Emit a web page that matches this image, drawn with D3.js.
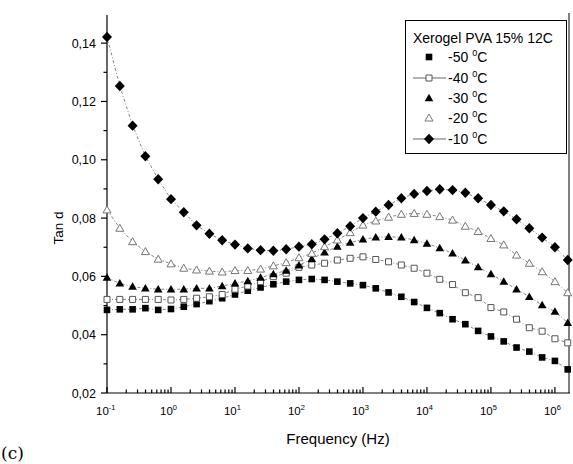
<!DOCTYPE html>
<html><head><meta charset="utf-8">
<script src="https://cdn.jsdelivr.net/npm/d3@7"></script>
<style>body{margin:0;background:#fff}svg{display:block}</style>
</head><body>
<svg id="c" width="573" height="464"></svg>
<script>
const freq = [0.1,0.1585,0.2512,0.3981,0.631, 1,1.585,2.512,3.981,6.31, 10,15.85,25.12,39.81,63.1,
  100,158.5,251.2,398.1,631, 1000,1585,2512,3981,6310, 1e4,15850,25120,39810,63100,
  1e5,158500,251200,398100,631000, 1e6,1585000];
const m50 = [0.0485,0.0487,0.0487,0.0491,0.0485,0.0488,0.0496,0.0505,0.0515,0.0525,0.0538,0.0551,0.0562,0.0573,0.0582,
  0.0588,0.0591,0.0588,0.0582,0.0576,0.0570,0.0559,0.0545,0.0530,0.0512,0.0492,
  0.0474,0.0453,0.0436,0.0413,0.0394,0.0377,0.0356,0.0342,0.0322,0.0310,0.0281];
const m40 = [0.0521,0.0521,0.0521,0.0521,0.0521,0.0519,0.0521,0.0525,0.0530,0.0538,0.0556,0.0567,0.0582,0.0599,0.0611,
  0.0631,0.0639,0.0645,0.0656,0.0662,0.0667,0.0658,0.0650,0.0639,0.0628,0.0611,
  0.0590,0.0572,0.0544,0.0527,0.0493,0.0478,0.0453,0.0424,0.0412,0.0386,0.0372];
const m30 = [0.0596,0.0576,0.0565,0.0559,0.0556,0.0556,0.0556,0.0559,0.0559,0.0567,0.0576,0.0584,0.0596,0.0608,0.0620,
  0.0638,0.0660,0.0683,0.0702,0.0716,0.0727,0.0734,0.0736,0.0734,0.0725,0.0713,
  0.0697,0.0679,0.0655,0.0632,0.0608,0.0582,0.0556,0.0530,0.0502,0.0479,0.0441];
const m20 = [0.0828,0.0765,0.0719,0.0685,0.0659,0.0643,0.0628,0.0622,0.0618,0.0615,0.0620,0.0620,0.0625,0.0636,0.0647,
  0.0664,0.0679,0.0702,0.0725,0.0750,0.0776,0.0790,0.0803,0.0813,0.0816,0.0813,
  0.0805,0.0793,0.0772,0.0754,0.0730,0.0708,0.0673,0.0645,0.0616,0.0582,0.0544];
const m10 = [0.1421,0.1253,0.1117,0.1012,0.0933,0.0865,0.0820,0.0775,0.0746,0.0724,0.0709,0.0696,0.0690,0.0688,0.0693,
  0.0702,0.0710,0.0727,0.0748,0.0772,0.0800,0.0822,0.0845,0.0868,0.0883,0.0893,
  0.0899,0.0896,0.0887,0.0868,0.0845,0.0823,0.0796,0.0765,0.0733,0.0700,0.0656];
const seriesNames = ["-50", "-40", "-30", "-20", "-10"];
const yTicks = [0.02,0.04,0.06,0.08,0.10,0.12,0.14];
const xTickExps = [-1,0,1,2,3,4,5,6];
const legendTitle = "Xerogel PVA 15% 12C";

const svg = d3.select("#c");
const font = "'Liberation Sans', Arial, Helvetica, sans-serif";
const pL = 107, pR = 569, pT = 14, pB = 393;
const x = d3.scaleLog().domain([0.1, Math.pow(10, 6.22)]).range([pL, pR]);
const y = d3.scaleLinear().domain([0.02, 0.15]).range([pB, pT]);

const shapes = {
  sqFill: "M-3.3,-3.3H3.3V3.3H-3.3Z",
  sqOpen: "M-3,-3H3V3H-3Z",
  triFill: "M0,-4.3L4.3,3.2L-4.3,3.2Z",
  triOpen: "M0,-4L4,3L-4,3Z",
  dia: "M0,-5.2L5,0L0,5.2L-5,0Z"
};
const series = [
  {name: seriesNames[0], vals: m50, shape: shapes.sqFill, fill: "#000", stroke: "none", legendLine: false},
  {name: seriesNames[1], vals: m40, shape: shapes.sqOpen, fill: "#fff", stroke: "#555", legendLine: true},
  {name: seriesNames[2], vals: m30, shape: shapes.triFill, fill: "#000", stroke: "none", legendLine: false},
  {name: seriesNames[3], vals: m20, shape: shapes.triOpen, fill: "#fff", stroke: "#777", legendLine: false},
  {name: seriesNames[4], vals: m10, shape: shapes.dia, fill: "#000", stroke: "none", legendLine: true}
];

// lines
const line = d3.line().x((d,i)=>x(freq[i])).y(d=>y(d));
series.forEach(s => {
  svg.append("path").attr("d", line(s.vals)).attr("fill","none")
    .attr("stroke","#666").attr("stroke-width",0.8).attr("stroke-dasharray","3,2,1,2");
});

// axes
const ax = svg.append("g").attr("stroke","#000").attr("stroke-width",1.2);
ax.append("line").attr("x1",pL).attr("x2",pL).attr("y1",pT+1).attr("y2",pB);
ax.append("line").attr("x1",pL).attr("x2",pR+1).attr("y1",pB).attr("y2",pB);
ax.append("line").attr("x1",pR).attr("x2",pR).attr("y1",pT-1).attr("y2",pB).attr("stroke-width",1);

// y ticks
const yMinor = [0.03,0.05,0.07,0.09,0.11,0.13];
yTicks.forEach(t => {
  ax.append("line").attr("x1",pL-6).attr("x2",pL).attr("y1",y(t)).attr("y2",y(t));
  svg.append("text").attr("x",pL-11).attr("y",y(t)+4.5).attr("text-anchor","end")
    .attr("font-family",font).attr("font-size",12.5).text(t.toFixed(2).replace(".",","));
});
yMinor.forEach(t => ax.append("line").attr("x1",pL-3.5).attr("x2",pL).attr("y1",y(t)).attr("y2",y(t)));

// x ticks
xTickExps.forEach(e => {
  const v = Math.pow(10,e);
  ax.append("line").attr("x1",x(v)).attr("x2",x(v)).attr("y1",pB).attr("y2",pB-6);
  for (let k=2;k<=9;k++){
    const mv = k*v;
    if (x(mv) < pR) ax.append("line").attr("x1",x(mv)).attr("x2",x(mv)).attr("y1",pB).attr("y2",pB-3.5);
  }
  const t = svg.append("text").attr("x",x(v)-11).attr("y",pB+22)
    .attr("font-family",font).attr("font-size",11.5);
  t.append("tspan").text("10");
  t.append("tspan").attr("dy",-5).attr("font-size",7.5).text(String(e));
});

// markers
series.forEach(s => {
  svg.append("g").selectAll("path").data(s.vals).join("path")
    .attr("transform",(d,i)=>`translate(${x(freq[i])},${y(d)})`)
    .attr("d", s.shape).attr("fill", s.fill).attr("stroke", s.stroke).attr("stroke-width",1);
});

// axis titles
svg.append("text").attr("transform","translate(63,228) rotate(-90)").attr("text-anchor","middle")
  .attr("font-family",font).attr("font-size",13.5).text("Tan d");
svg.append("text").attr("x",338).attr("y",444).attr("text-anchor","middle")
  .attr("font-family",font).attr("font-size",15).text("Frequency (Hz)");
svg.append("text").attr("x",1).attr("y",459).attr("font-family","'DejaVu Serif', serif")
  .attr("font-size",17).text("(c)");

// legend
const lg = svg.append("g");
lg.append("rect").attr("x",405.5).attr("y",20.5).attr("width",161).attr("height",133)
  .attr("fill","#fff").attr("stroke","#000").attr("stroke-width",1);
lg.append("text").attr("x",413).attr("y",43).attr("font-family",font).attr("font-size",14).text(legendTitle);
const ly = [57, 78, 98, 118, 139];
series.forEach((s,i) => {
  const yy = ly[i];
  if (s.legendLine) lg.append("line").attr("x1",413).attr("x2",446).attr("y1",yy).attr("y2",yy)
    .attr("stroke","#666").attr("stroke-width",1);
  lg.append("path").attr("transform",`translate(429,${yy})`).attr("d",s.shape)
    .attr("fill",s.fill).attr("stroke",s.stroke);
  const t = lg.append("text").attr("x",448).attr("y",yy+5).attr("font-family",font).attr("font-size",14);
  t.append("tspan").text(s.name + " ");
  t.append("tspan").attr("dy",-6).attr("font-size",9).text("0");
  t.append("tspan").attr("dy",6).text("C");
});
</script>
</body></html>
